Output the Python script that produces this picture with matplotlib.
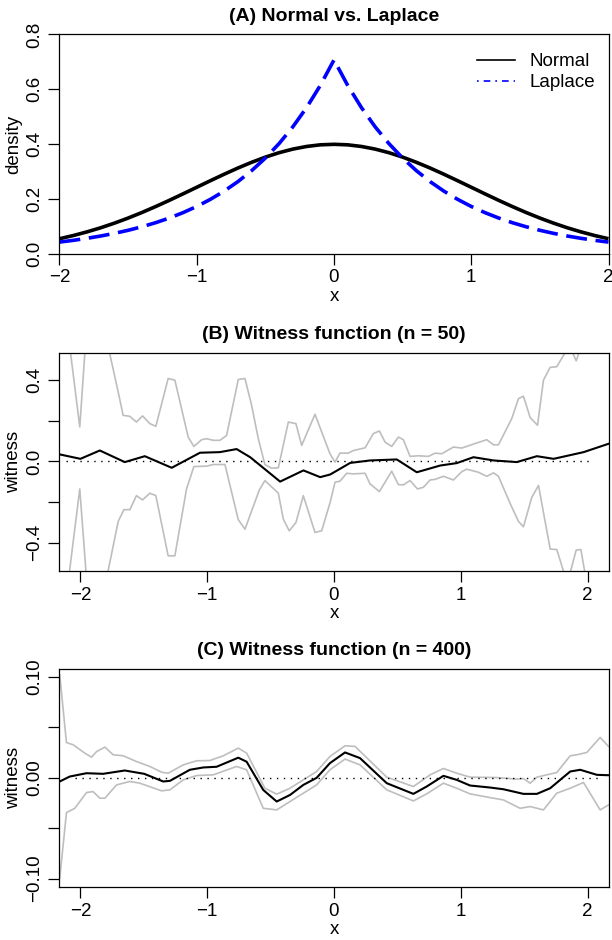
import matplotlib
matplotlib.use("Agg")
import matplotlib.pyplot as plt
from matplotlib.lines import Line2D

plt.rcParams['font.family'] = ['Liberation Sans', 'DejaVu Sans']

# ---- panel A: densities on a grid ----
grid_x = [-2.0, -1.9, -1.8, -1.7, -1.6, -1.5, -1.4, -1.3, -1.2, -1.1, -1.0,
          -0.9, -0.8, -0.7, -0.6, -0.5, -0.4, -0.3, -0.2, -0.1, 0.0,
          0.1, 0.2, 0.3, 0.4, 0.5, 0.6, 0.7, 0.8, 0.9, 1.0,
          1.1, 1.2, 1.3, 1.4, 1.5, 1.6, 1.7, 1.8, 1.9, 2.0]
normal_half = [0.0540, 0.0656, 0.0790, 0.0940, 0.1109, 0.1295, 0.1497, 0.1714,
               0.1942, 0.2179, 0.2420, 0.2661, 0.2897, 0.3123, 0.3332, 0.3521,
               0.3683, 0.3814, 0.3910, 0.3970]
laplace_half = [0.0418, 0.0481, 0.0555, 0.0639, 0.0736, 0.0848, 0.0977, 0.1125,
                0.1296, 0.1493, 0.1719, 0.1980, 0.2281, 0.2627, 0.3027, 0.3487,
                0.4016, 0.4626, 0.5329, 0.6138]
normal_y = normal_half + [0.3989] + normal_half[::-1]
laplace_y = laplace_half + [0.7071] + laplace_half[::-1]

# ---- panel B: witness function, n = 50 ----
b_wit_x = [-2.165, -2.0, -1.847, -1.65, -1.492, -1.28, -1.057, -0.9, -0.768, -0.661,
           -0.425, -0.241, -0.109, -0.03, 0.128, 0.284, 0.495, 0.653, 0.837, 0.968,
           1.10, 1.259, 1.442, 1.60, 1.732, 1.969, 2.165]
b_wit_y = [0.035, 0.013, 0.054, -0.003, 0.026, -0.031, 0.043, 0.046, 0.061, 0.021,
           -0.099, -0.044, -0.077, -0.064, -0.007, 0.005, 0.010, -0.053, -0.020, -0.008,
           0.021, 0.005, -0.003, 0.026, 0.013, 0.046, 0.087]

b_up_x = [-2.165, -2.005, -1.94, -1.90, -1.702, -1.663, -1.610, -1.558, -1.510, -1.452,
          -1.405, -1.308, -1.255, -1.150, -1.105, -1.044, -1.005, -0.952, -0.900, -0.847,
          -0.755, -0.702, -0.650, -0.597, -0.545, -0.492, -0.439, -0.360, -0.300, -0.255,
          -0.150, -0.032, 0.008, 0.047, 0.113, 0.153, 0.245, 0.310, 0.358, 0.403,
          0.455, 0.508, 0.547, 0.600, 0.666, 0.745, 0.797, 0.850, 0.942, 1.008,
          1.126, 1.205, 1.258, 1.297, 1.402, 1.455, 1.494, 1.547, 1.605, 1.652,
          1.705, 1.757, 1.823, 1.85, 1.91, 1.97, 2.05, 2.165]
b_up_y = [0.97, 0.170, 0.76, 0.90, 0.342, 0.227, 0.222, 0.194, 0.224, 0.186,
          0.173, 0.408, 0.400, 0.120, 0.074, 0.107, 0.112, 0.104, 0.104, 0.128,
          0.403, 0.408, 0.277, 0.112, -0.015, -0.033, -0.031, 0.194, 0.186, 0.079,
          0.232, 0.038, -0.003, 0.041, 0.041, 0.054, 0.067, 0.137, 0.150, 0.095,
          0.074, 0.120, 0.107, 0.025, 0.028, 0.025, 0.041, 0.038, 0.071, 0.066,
          0.091, 0.107, 0.082, 0.082, 0.211, 0.309, 0.321, 0.216, 0.178, 0.400,
          0.463, 0.466, 0.535, 0.58, 0.495, 0.60, 0.75, 0.90]

b_lo_x = [-2.165, -2.005, -1.94, -1.90, -1.702, -1.657, -1.610, -1.558, -1.510, -1.452,
          -1.405, -1.308, -1.255, -1.163, -1.105, -1.005, -0.952, -0.860, -0.755, -0.702,
          -0.589, -0.545, -0.439, -0.400, -0.353, -0.300, -0.242, -0.150, -0.097, -0.03,
          0.008, 0.047, 0.100, 0.153, 0.245, 0.284, 0.358, 0.455, 0.508, 0.547,
          0.600, 0.658, 0.705, 0.758, 0.797, 0.863, 0.942, 1.008, 1.047, 1.139,
          1.205, 1.258, 1.297, 1.389, 1.455, 1.494, 1.560, 1.613, 1.705, 1.757,
          1.84, 1.91, 1.947, 2.05, 2.165]
b_lo_y = [-0.935, -0.135, -0.675, -0.90, -0.295, -0.237, -0.237, -0.168, -0.189, -0.156,
          -0.168, -0.464, -0.464, -0.135, -0.025, -0.023, -0.015, -0.015, -0.286, -0.333,
          -0.140, -0.094, -0.156, -0.283, -0.341, -0.300, -0.168, -0.349, -0.341, -0.20,
          -0.102, -0.097, -0.058, -0.061, -0.058, -0.110, -0.148, -0.048, -0.114, -0.115,
          -0.094, -0.135, -0.127, -0.091, -0.088, -0.073, -0.091, -0.050, -0.038, -0.053,
          -0.073, -0.056, -0.073, -0.206, -0.295, -0.321, -0.176, -0.118, -0.431, -0.433,
          -0.60, -0.436, -0.433, -0.80, -0.90]

# ---- panel C: witness function, n = 400 ----
c_wit_x = [-2.163, -2.084, -1.952, -1.821, -1.650, -1.497, -1.347, -1.294, -1.137, -1.031,
           -0.926, -0.755, -0.689, -0.558, -0.452, -0.347, -0.242, -0.137, -0.032, 0.087,
           0.205, 0.416, 0.626, 0.731, 0.863, 0.968, 1.073, 1.231, 1.336, 1.494,
           1.600, 1.705, 1.863, 1.942, 2.073, 2.165]
c_wit_y = [-0.0036, 0.0013, 0.0046, 0.0040, 0.0073, 0.0040, -0.0036, -0.0030, 0.0080, 0.0103,
           0.0110, 0.0200, 0.0160, -0.0120, -0.0235, -0.0170, -0.0070, 0.0000, 0.0146, 0.0252,
           0.0196, -0.0053, -0.0159, -0.0086, 0.0020, -0.0020, -0.0076, -0.0096, -0.0113, -0.0159,
           -0.0159, -0.0103, 0.0063, 0.0080, 0.0030, 0.0026]

c_up_x = [-2.163, -2.110, -2.057, -1.965, -1.913, -1.873, -1.807, -1.742, -1.663, -1.558,
          -1.452, -1.360, -1.308, -1.189, -1.084, -0.979, -0.873, -0.755, -0.689, -0.545,
          -0.452, -0.347, -0.137, -0.032, 0.087, 0.166, 0.416, 0.626, 0.758, 0.863,
          0.968, 1.073, 1.284, 1.442, 1.494, 1.547, 1.600, 1.679, 1.757, 1.863,
          1.915, 1.994, 2.099, 2.165]
c_up_y = [0.102, 0.035, 0.0328, 0.0245, 0.0205, 0.026, 0.0305, 0.0229, 0.0219, 0.0162,
          0.0113, 0.0056, 0.0046, 0.0129, 0.0169, 0.0172, 0.0219, 0.0295, 0.0245, -0.0103,
          -0.0162, -0.0103, 0.0063, 0.0212, 0.0318, 0.0312, 0.0007, -0.0086, 0.0030, 0.0093,
          0.0046, 0.0007, 0.0003, -0.0013, -0.0007, -0.0053, 0.0007, 0.0030, 0.0053, 0.0219,
          0.0229, 0.0252, 0.0401, 0.0312]

c_lo_x = [-2.163, -2.110, -2.044, -1.952, -1.900, -1.847, -1.807, -1.715, -1.610, -1.531,
          -1.360, -1.294, -1.189, -1.084, -0.952, -0.768, -0.689, -0.558, -0.452, -0.347,
          -0.137, -0.032, 0.087, 0.205, 0.416, 0.626, 0.731, 0.863, 0.968, 1.073,
          1.231, 1.336, 1.468, 1.547, 1.652, 1.757, 1.863, 1.968, 2.099, 2.165]
c_lo_y = [-0.0997, -0.0345, -0.0302, -0.0146, -0.0136, -0.0202, -0.0202, -0.0070, -0.0036, -0.0053,
          -0.0129, -0.0119, -0.0020, 0.0023, 0.0030, 0.0113, 0.0080, -0.0302, -0.0318, -0.0235,
          -0.0070, 0.0080, 0.0186, 0.0129, -0.0119, -0.0229, -0.0159, -0.0053, -0.0103, -0.0159,
          -0.0196, -0.0219, -0.0302, -0.0285, -0.0318, -0.0152, -0.0103, -0.0046, -0.0318, -0.0269]

x_ticks = [-2, -1, 0, 1, 2]
x_tick_labels = ['\u22122', '\u22121', '0', '1', '2']
a_y_ticks = [0.0, 0.2, 0.4, 0.6, 0.8]
a_y_labels = ['0.0', '0.2', '0.4', '0.6', '0.8']
b_y_ticks = [-0.4, -0.2, 0.0, 0.2, 0.4]
b_y_labels = ['\u22120.4', '', '0.0', '', '0.4']
c_y_ticks = [-0.10, -0.05, 0.0, 0.05, 0.10]
c_y_labels = ['\u22120.10', '', '0.00', '', '0.10']

GRAY = '#BEBEBE'
FS = 13.5
TFS = 14


def style_axes(ax, yticks, ylabels):
    ax.set_xticks(x_ticks)
    ax.set_xticklabels(x_tick_labels)
    ax.set_yticks(yticks)
    ax.set_yticklabels(ylabels, rotation=90, va='center')
    ax.tick_params(direction='out', length=8, width=0.9, labelsize=FS, pad=3.5)
    for s in ax.spines.values():
        s.set_linewidth(0.9)


fig = plt.figure(figsize=(6.12, 9.40), dpi=100)
L, W = 0.0972, 0.8971

# (A)
ax = fig.add_axes([L, 0.7303, W, 0.2330])
ax.plot(grid_x, normal_y, color='black', lw=2.6, solid_capstyle='butt')
ax.plot(grid_x, laplace_y, color='blue', lw=2.6, dashes=(5.8, 2.4))
ax.set_xlim(-2, 2)
ax.set_ylim(0, 0.8)
style_axes(ax, a_y_ticks, a_y_labels)
ax.set_xlabel('x', fontsize=FS, labelpad=1)
ax.set_ylabel('density', fontsize=FS, labelpad=3)
ax.set_title('(A) Normal vs. Laplace', fontsize=TFS, fontweight='bold', pad=10)
handles = [Line2D([], [], color='black', lw=1.2),
           Line2D([], [], color='blue', lw=1.2, dashes=(1, 3, 4, 3))]
ax.legend(handles, ['Normal', 'Laplace'], loc='upper right', frameon=False,
          fontsize=FS, handlelength=2.0, handletextpad=0.8, labelspacing=0.2,
          borderaxespad=0.3, bbox_to_anchor=(1.0, 0.975))

# (B)
ax = fig.add_axes([L, 0.3929, W, 0.2319])
ax.plot(b_up_x, b_up_y, color=GRAY, lw=1.2)
ax.plot(b_lo_x, b_lo_y, color=GRAY, lw=1.2)
ax.plot([-2.11, 2.04], [0, 0], color='black', lw=1.0, dashes=(1, 4))
ax.plot(b_wit_x, b_wit_y, color='black', lw=1.5)
ax.set_xlim(-2.165, 2.165)
ax.set_ylim(-0.537, 0.535)
style_axes(ax, b_y_ticks, b_y_labels)
ax.set_xlabel('x', fontsize=FS, labelpad=1)
ax.set_ylabel('witness', fontsize=FS, labelpad=3)
ax.set_title('(B) Witness function (n = 50)', fontsize=TFS, fontweight='bold', pad=10)

# (C)
ax = fig.add_axes([L, 0.0567, W, 0.2316])
ax.plot(c_up_x, c_up_y, color=GRAY, lw=1.2)
ax.plot(c_lo_x, c_lo_y, color=GRAY, lw=1.2)
ax.plot([-2.04, 2.11], [0, 0], color='black', lw=1.0, dashes=(1, 4))
ax.plot(c_wit_x, c_wit_y, color='black', lw=1.5)
ax.set_xlim(-2.165, 2.165)
ax.set_ylim(-0.108, 0.108)
style_axes(ax, c_y_ticks, c_y_labels)
ax.set_xlabel('x', fontsize=FS, labelpad=1)
ax.set_ylabel('witness', fontsize=FS, labelpad=3)
ax.set_title('(C) Witness function (n = 400)', fontsize=TFS, fontweight='bold', pad=10)

fig.savefig('out.png', dpi=100)
